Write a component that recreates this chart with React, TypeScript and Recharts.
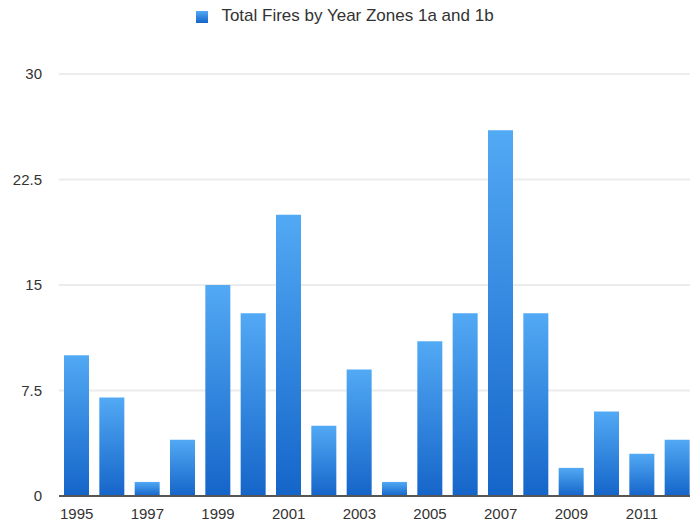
import { BarChart, Bar, XAxis, YAxis, CartesianGrid, Legend } from "recharts";

const years = [
  "1995", "1996", "1997", "1998", "1999", "2000", "2001", "2002", "2003",
  "2004", "2005", "2006", "2007", "2008", "2009", "2010", "2011", "2012",
];
const fires = [10, 7, 1, 4, 15, 13, 20, 5, 9, 1, 11, 13, 26, 13, 2, 6, 3, 4];
const yTicks = [0, 7.5, 15, 22.5, 30];
const seriesName = "Total Fires by Year Zones 1a and 1b";

const data = years.map((y, i) => ({ year: y, [seriesName]: fires[i] }));

const font = "'Liberation Sans', Arial, Helvetica, sans-serif";

export default function App() {
  return (
    <div
      style={{
        position: "absolute",
        left: 0,
        top: 0,
        width: 690,
        height: 525,
        overflow: "hidden",
        background: "#fff",
        fontFamily: font,
      }}
    >
      <BarChart
        width={695}
        height={525}
        data={data}
        margin={{ top: 54, right: 0, bottom: 0, left: 0 }}
      >
        <defs>
          <linearGradient id="barFill" x1="0" y1="0" x2="0" y2="1">
            <stop offset="0%" stopColor="#52a9f4" />
            <stop offset="100%" stopColor="#1565c9" />
          </linearGradient>
        </defs>
        <Legend
          verticalAlign="top"
          align="center"
          iconType="square"
          iconSize={12}
          wrapperStyle={{ top: 6, left: 0, width: 700, fontSize: 17, color: "#333" }}
          formatter={(v) => (
            <span style={{ color: "#333", marginLeft: 9 }}>{v}</span>
          )}
        />
        <CartesianGrid vertical={false} stroke="#ececec" strokeWidth={2} />
        <XAxis
          dataKey="year"
          interval={1}
          tickLine={false}
          axisLine={{ stroke: "#555", strokeWidth: 2 }}
          tick={{ fill: "#333", fontSize: 15, fontFamily: font }}
          tickMargin={6}
          height={29}
        />
        <YAxis
          domain={[0, 30]}
          ticks={yTicks}
          tickLine={false}
          axisLine={false}
          width={59}
          tickMargin={11}
          tick={{ fill: "#333", fontSize: 15, fontFamily: font }}
        />
        <Bar
          dataKey={seriesName}
          fill="url(#barFill)"
          barSize={25}
          isAnimationActive={false}
          legendType="square"
        />
      </BarChart>
    </div>
  );
}
